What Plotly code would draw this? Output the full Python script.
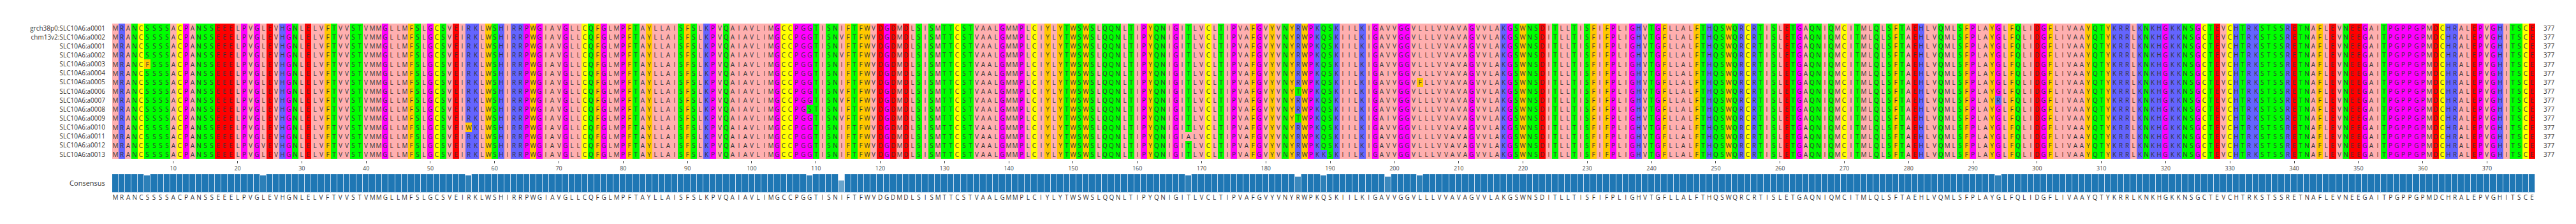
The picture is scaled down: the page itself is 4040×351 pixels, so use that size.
import plotly.graph_objects as go
from collections import Counter

# ---------------- data ----------------
SEQ_NAMES = [
    "grch38p0:SLC10A6:a0001", "chm13v2:SLC10A6:a0002",
    "SLC10A6:a0001", "SLC10A6:a0002", "SLC10A6:a0003", "SLC10A6:a0004",
    "SLC10A6:a0005", "SLC10A6:a0006", "SLC10A6:a0007", "SLC10A6:a0008",
    "SLC10A6:a0009", "SLC10A6:a0010", "SLC10A6:a0011", "SLC10A6:a0012",
    "SLC10A6:a0013",
]

REFERENCE_SEQ = (
    "MRANCSSSSACPANSSEEELPVGLEVHGNLELVFTVVSTVMMGLLMFSLGCSVEIRKLWS"
    "HIRRPWGIAVGLLCQFGLMPFTAYLLAISFSLKPVQAIAVLIMGCCPGGTISNIFTFWVD"
    "GDMDLSISMTTCSTVAALGMMPLCIYLYTWSWSLQQNLTIPYQNIGITLVCLTIPVAFGV"
    "YVNYRWPKQSKIILKIGAVVGGVLLLVVAVAGVVLAKGSWNSDITLLTISFIFPLIGHVT"
    "GFLLALFTHQSWQRCRTISLETGAQNIQMCITMLQLSFTAEHLVQMLSFPLAYGLFQLID"
    "GFLIVAAYQTYKRRLKNKHGKKNSGCTEVCHTRKSTSSRETNAFLEVNEEGAITPGPPGP"
    "MDCHRALEPVGHITSCE"
)

# substitutions seen in individual rows: (row index, 1-based position, residue)
VARIANTS = [
    (4, 6, "F"),
    (13, 24, "V"),
    (11, 56, "W"),
    (9, 109, "S"),
    (1, 114, "V"), (3, 114, "V"), (7, 114, "V"), (8, 114, "V"), (10, 114, "V"),
    (12, 168, "A"),
    (7, 185, "T"), (10, 185, "T"),
    (14, 189, "K"),
    (5, 199, "I"), (10, 199, "I"),
    (6, 204, "F"),
    (8, 294, "R"),
]

TICK_POSITIONS = list(range(10, 371, 10))

# Zappo residue colour scheme
ZAPPO_GROUPS = ["ILVAM", "FWY", "KRH", "DE", "STNQ", "PG", "C"]
ZAPPO_COLORS = ["#ffafaf", "#ffc800", "#6464ff", "#ff0000", "#00ff00", "#ff00ff", "#ffff00"]

# ---------------- build alignment ----------------
seqs = [list(REFERENCE_SEQ) for _ in SEQ_NAMES]
for r, p, aa in VARIANTS:
    seqs[r][p - 1] = aa

L = len(REFERENCE_SEQ)
positions = list(range(1, L + 1))
group_of = {aa: gi for gi, g in enumerate(ZAPPO_GROUPS) for aa in g}
z = [[group_of[a] for a in s] for s in seqs]

ng = len(ZAPPO_COLORS)
colorscale = []
for i, c in enumerate(ZAPPO_COLORS):
    colorscale.append([i / ng, c])
    colorscale.append([(i + 1) / ng, c])

consensus = []
conservation = []
for j in range(L):
    col = [s[j] for s in seqs]
    aa, cnt = Counter(col).most_common(1)[0]
    consensus.append(aa)
    conservation.append(cnt / len(seqs))

fig = go.Figure()
fig.add_trace(go.Heatmap(
    x=positions, y=list(range(len(SEQ_NAMES))), z=z,
    text=seqs, texttemplate="%{text}",
    textfont=dict(size=10, color="#333333"),
    colorscale=colorscale, zmin=-0.5, zmax=ng - 0.5, showscale=False,
    xaxis="x", yaxis="y", hoverinfo="skip",
))
fig.add_trace(go.Bar(
    x=positions, y=conservation,
    marker=dict(color="#1f77b4", opacity=conservation,
                line=dict(color="#c6dbef", width=1)),
    xaxis="x2", yaxis="y2", hoverinfo="skip",
))

for i, s in enumerate(seqs):
    fig.add_annotation(
        xref="paper", yref="y", x=1.0029, y=i, xanchor="left",
        text=str(len([a for a in s if a != "-"])), showarrow=False,
        font=dict(size=10, color="#333333"),
    )

fig.update_layout(
    width=4040, height=351,
    margin=dict(l=176, r=64, t=35, b=49),
    paper_bgcolor="white", plot_bgcolor="white",
    showlegend=False, bargap=0,
    font=dict(color="#444444"),
    xaxis=dict(domain=[0, 1], anchor="y", range=[0.5, L + 0.5],
               tickmode="array", tickvals=TICK_POSITIONS,
               ticks="outside", ticklen=4, tickcolor="#444444",
               tickfont=dict(size=9), showgrid=False, zeroline=False),
    yaxis=dict(domain=[0.191, 1], autorange="reversed",
               tickmode="array", tickvals=list(range(len(SEQ_NAMES))), ticktext=SEQ_NAMES,
               ticks="outside", ticklen=8, tickcolor="rgba(0,0,0,0)",
               tickfont=dict(size=10, color="#333333"), showgrid=False, zeroline=False),
    xaxis2=dict(domain=[0, 1], anchor="y2", range=[0.5, L + 0.5],
                tickmode="array", tickvals=positions, ticktext=consensus,
                tickangle=0, ticks="", tickfont=dict(size=10, color="#333333"),
                showgrid=False, zeroline=False),
    yaxis2=dict(domain=[0, 0.1086], anchor="x2", range=[0, 1],
                tickmode="array", tickvals=[0.5], ticktext=["Consensus"],
                ticks="outside", ticklen=8, tickcolor="rgba(0,0,0,0)",
                tickfont=dict(size=11, color="#333333"), showgrid=False, zeroline=False),
)

fig.write_html("out.html")
